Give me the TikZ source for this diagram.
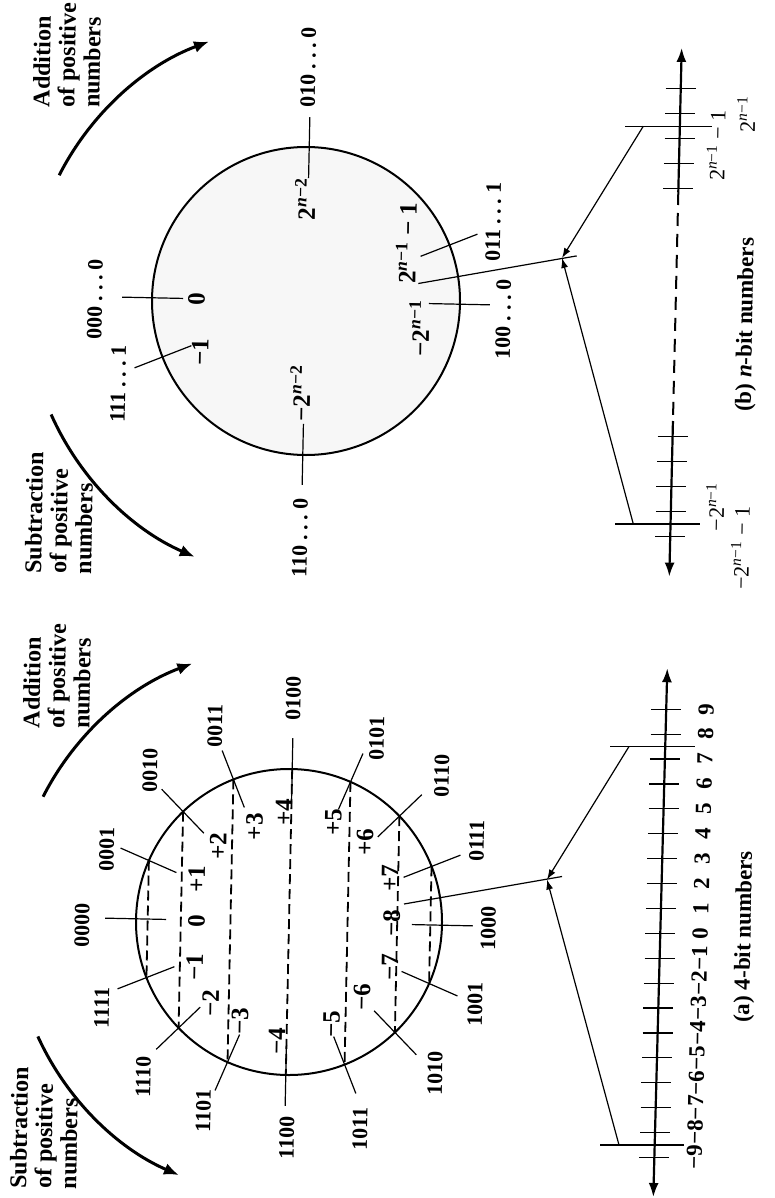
\documentclass[tikz,border=0pt]{standalone}
\usepackage{fontspec}
\setmainfont{Liberation Serif}
\usetikzlibrary{arrows.meta,calc}
\newcommand\pw[1]{\textsuperscript{#1}}
\newcommand\dts{\hspace{0.22em}.\hspace{0.22em}.\hspace{0.22em}.\hspace{0.22em}}
\begin{document}
\begin{tikzpicture}[x=0.5pt,y=-0.5pt,
  every node/.style={inner sep=0pt,outer sep=0pt,rotate=89},
  code/.style={font=\fontsize{11}{12}\selectfont\bfseries},
  val/.style={font=\fontsize{12.5}{13}\selectfont\bfseries},
  hdr/.style={font=\fontsize{12}{12.5}\selectfont\bfseries,align=left},
  captext/.style={font=\fontsize{11.5}{12}\selectfont\bfseries},
  nlab/.style={font=\fontsize{11.5}{12}\selectfont\bfseries},
  blab/.style={font=\fontsize{11}{12}\selectfont},
  ring/.style={line width=1pt},
  tk/.style={line width=0.6pt},
  chord/.style={line width=0.9pt,dash pattern=on 5pt off 2.5pt},
  flow/.style={line width=1.5pt,-{Latex[length=7.5pt,width=6pt]}},
  axisline/.style={line width=1.1pt},
  axtip/.style={{Latex[length=7pt,width=5pt]}-{Latex[length=7pt,width=5pt]}},
  wrap/.style={line width=0.6pt,-{Latex[length=5pt,width=3.5pt]}},
]
\fill[white] (0,0) rectangle (775,1198);
\useasboundingbox (0,0) rectangle (775,1198);

% ================= (a) 4-bit circle =================
\coordinate (A) at (289,922);
\draw[ring] (A) circle[radius=153];
\foreach \k in {1,...,7} {
  \draw[chord] ($(A)+({181.2+22.5*\k}:153)$) -- ($(A)+({181.2-22.5*\k}:153)$);
}
\foreach \k in {0,...,15} {
  \draw[tk] ($(A)+({181.2+22.5*\k}:123)$) -- ($(A)+({181.2+22.5*\k}:184)$);
}
% codes
\node[code] (c0)  at (82,925)    {0000};
\node[code] (c1)  at (106.7,849) {0001};
\node[code] (c2)  at (150,770)   {0010};
\node[code] (c3)  at (215,726)   {0011};
\node[code] (c4)  at (293.3,698) {0100};
\node[code] (c5)  at (376.7,738) {0101};
\node[code] (c6)  at (441.7,776) {0110};
\node[code] (c7)  at (476.7,841) {0111};
\node[code] (c8)  at (488.3,928) {1000};
\node[code] (c9)  at (475,1004)  {1001};
\node[code] (c10) at (435,1073)  {1010};
\node[code] (c11) at (360,1129)  {1011};
\node[code] (c12) at (286.7,1138){1100};
\node[code] (c13) at (203.3,1111){1101};
\node[code] (c14) at (143.3,1077){1110};
\node[code] (c15) at (101.7,1008){1111};
% values
\node[val] (v0)  at (196.5,921) {0};
\node[val] (vp1) at (196.7,879) {+1};
\node[val] (vp2) at (218,846)   {+2};
\node[val] (vp3) at (254.5,826.5) {+3};
\node[val] (vp4) at (284,812)   {+4};
\node[val] (vp5) at (333.3,822) {+5};
\node[val] (vp6) at (365,842)   {+6};
\node[val] (vp7) at (390,878)   {+7};
\node[val] (vm8) at (391.7,923) {−8};
\node[val] (vm7) at (390,967)   {−7};
\node[val] (vm6) at (362,997)   {−6};
\node[val] (vm5) at (331.5,1024){−5};
\node[val] (vm4) at (277,1041)  {−4};
\node[val] (vm3) at (240,1021)  {−3};
\node[val] (vm2) at (210.5,1003){−2};
\node[val] (vm1) at (194.5,967) {−1};
% headers and flow arrows
\node[hdr] (adda) at (57,676) {Addition\\of positive\\numbers};
\node[hdr] (suba) at (44,1128) {Subtraction\\of positive\\numbers};
\draw[flow] ($(A)+(207:276)$) arc[start angle=207,end angle=249.5,radius=276];
\draw[flow] ($(A)+(155.5:276)$) arc[start angle=155.5,end angle=113.5,radius=276];
% wrap line and arrows
\coordinate (Ja) at (547,879.5);
\coordinate (La0) at (404,904);
\coordinate (La1) at (562,876.5);
\draw[tk] (La0) -- (La1);
% number line (a)
\coordinate (NA1) at (653.3,1197);
\coordinate (NA2) at (667.3,668.2);
\draw[axisline,axtip] (NA1) -- (NA2);
\foreach \v/\t in {-9/−9,-8/−8,-7/−7,-6/−6,-5/−5,-4/−4,-3/−3,-2/−2,-1/−1,0/0,1/1,2/2,3/3,4/4,5/5,6/6,7/7,8/8,9/9} {
  \pgfmathsetmacro\yy{933.3-24.9*\v}
  \pgfmathsetmacro\xx{667.3-(\yy-668.2)*0.02646}
  \draw[tk] (\xx-15,\yy) -- (\xx+15,\yy);
  \node[nlab] at (\xx+40,\yy) {\t};
}
\coordinate (TA1) at (629,746.5);
\coordinate (TA2) at (619,1145);
\draw[tk] (610,746.5) -- (695,746.5);
\draw[tk] (600,1145) -- (684,1145);
\draw[wrap] (TA1) -- (Ja);
\draw[wrap] (TA2) -- (Ja);
\node[captext] (capa) at (745,937) {(a) 4-bit numbers};

% ================= (b) n-bit circle =================
\coordinate (B) at (306,301);
\fill[black!3] (B) circle[radius=154];
\draw[ring] (B) circle[radius=154];
\foreach \k in {0,4,7,8,12,15} {
  \draw[tk] ($(B)+({181.2+22.5*\k}:123)$) -- ($(B)+({181.2+22.5*\k}:184)$);
}
\node[code] (b0)  at (95,299)    {000\dts0};
\node[code] (b15) at (118.3,384) {111\dts1};
\node[code] (b4)  at (308.3,67)  {010\dts0};
\node[code] (b12) at (300,538)   {110\dts0};
\node[code] (b8)  at (503.3,319) {100\dts0};
\node[code] (b7)  at (493.3,222) {011\dts1};
\node[val] (w0)  at (196.5,299.5) {0};
\node[val] (wm1) at (200,352) {−1};
\node[val] (wq)  at (305,199) {2\pw{\textit{n}−2}};
\node[val] (wmq) at (300,393) {−2\pw{\textit{n}−2}};
\node[val] (wh)  at (406,243) {2\pw{\textit{n}−1} − 1};
\node[val] (wmh) at (419,328) {−2\pw{\textit{n}−1}};
\node[hdr] (addb) at (67,55) {Addition\\of positive\\numbers};
\node[hdr] (subb) at (59,513) {Subtraction\\of positive\\numbers};
\draw[flow] ($(B)+(207:277)$) arc[start angle=207,end angle=249.5,radius=277];
\draw[flow] ($(B)+(156:279)$) arc[start angle=156,end angle=113.5,radius=279];
\coordinate (Jb) at (562,258);
\coordinate (Lb0) at (418.3,283.5);
\coordinate (Lb1) at (576.7,255.9);
\draw[tk] (Lb0) -- (Lb1);
% number line (b)
\coordinate (NB1) at (669.3,576.6);
\coordinate (NB2) at (681.7,47.9);
\coordinate (NBt) at (678.3,192);
\coordinate (NBb) at (672.95,421);
\draw[axisline,-{Latex[length=7pt,width=5pt]}] (NBt) -- (NB2);
\draw[axisline,-{Latex[length=7pt,width=5pt]}] (NBb) -- (NB1);
\draw[line width=1pt,dash pattern=on 6.5pt off 4pt] (NBt) -- (NBb);
\foreach \yy in {88.9,113.8,138.7,163.6,188.5,436.8,461.7,486.6,511.5,536.4} {
  \pgfmathsetmacro\xx{681.7-(\yy-47.9)*0.02345}
  \draw[tk] (\xx-15,\yy) -- (\xx+15,\yy);
}
\coordinate (TB1) at (643.3,126.2);
\coordinate (TB2) at (633.3,524);
\draw[tk] (625,126.2) -- (711.7,126.2);
\draw[tk] (615,524) -- (700,524);
\draw[wrap] (TB1) -- (Jb);
\draw[wrap] (TB2) -- (Jb);
\node[blab] (l1) at (716,145.6) {2\pw{\textit{n}−1} − 1};
\node[blab] (l2) at (746,114) {2\pw{\textit{n}−1}};
\node[blab] (l3) at (715,507) {−2\pw{\textit{n}−1}};
\node[blab] (l4) at (740,548) {−2\pw{\textit{n}−1} − 1};
\node[captext] (capb) at (746.7,324.7) {(b) \textit{n}-bit numbers};
\end{tikzpicture}
\end{document}
